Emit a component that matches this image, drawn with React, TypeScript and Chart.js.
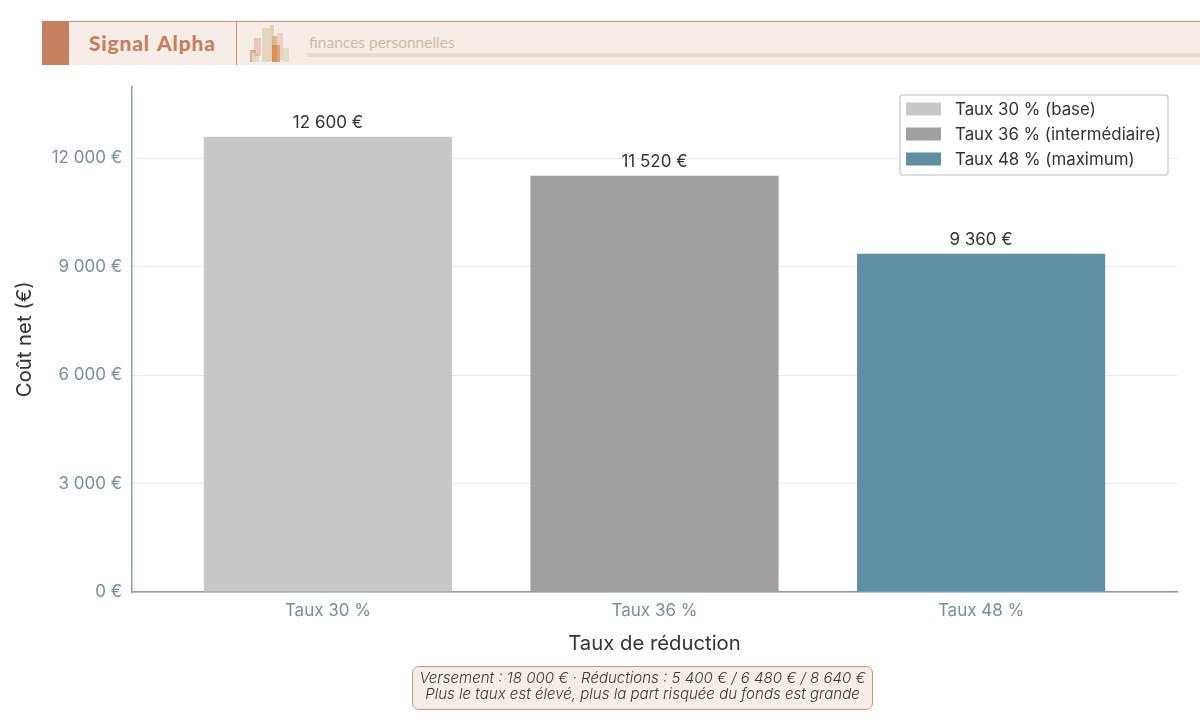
import { useEffect, useRef } from 'react';
import Chart from 'chart.js/auto';

const positions = [0, 1, 2];
const categories = ['Taux 30 %', 'Taux 36 %', 'Taux 48 %'];
const netCosts = [12600, 11520, 9360];
const yTicks = [0, 3000, 6000, 9000, 12000];
const barColors = ['#c8c8c8', '#a0a0a0', '#5f8fa3'];
const legendLabels = ['Taux 30 % (base)', 'Taux 36 % (intermédiaire)', 'Taux 48 % (maximum)'];
const noteLines = [
  'Versement : 18 000 € · Réductions : 5 400 € / 6 480 € / 8 640 €',
  'Plus le taux est élevé, plus la part risquée du fonds est grande',
];

const FONT = 'Inter';
const TEXT = '#333333';
const TICK = '#7290a0';
const AXIS = '#86a0ae';

const euro = (v: number) => String(v).replace(/\B(?=(\d{3})+$)/g, ' ') + ' €';

// small decorative skyline next to the brand name
const logoBars = [
  { l: 250, t: 50, w: 6, h: 12, c: 'rgba(224,150,90,.7)' },
  { l: 252, t: 53, w: 7, h: 9, c: 'rgba(215,220,205,.9)' },
  { l: 254, t: 38, w: 7, h: 18, c: 'rgba(220,150,145,.45)' },
  { l: 262, t: 28, w: 8, h: 34, c: 'rgba(225,212,190,.95)' },
  { l: 270, t: 25, w: 4, h: 36, c: 'rgba(225,200,170,.8)' },
  { l: 272, t: 36, w: 5, h: 26, c: 'rgba(205,170,120,.75)' },
  { l: 272, t: 45, w: 8, h: 17, c: 'rgba(215,130,50,.7)' },
  { l: 277, t: 33, w: 6, h: 27, c: 'rgba(225,160,150,.4)' },
  { l: 283, t: 48, w: 6, h: 14, c: 'rgba(225,220,200,.95)' },
];

const valueLabels = {
  id: 'valueLabels',
  afterDatasetsDraw(chart: any) {
    const { ctx } = chart;
    ctx.save();
    ctx.font = `17px ${FONT}`;
    ctx.fillStyle = TEXT;
    ctx.textAlign = 'center';
    ctx.textBaseline = 'middle';
    chart.getDatasetMeta(0).data.forEach((bar: any, i: number) => {
      ctx.fillText(euro(netCosts[i]), bar.x, bar.y - 14);
    });
    ctx.restore();
  },
};

const boxedLegend = {
  id: 'boxedLegend',
  afterDraw(chart: any) {
    const { ctx, chartArea } = chart;
    const left = chartArea.right - 277;
    const top = 95;
    ctx.save();
    ctx.beginPath();
    ctx.roundRect(left, top, 268, 80, 3);
    ctx.fillStyle = '#ffffff';
    ctx.fill();
    ctx.strokeStyle = '#ccd3d9';
    ctx.lineWidth = 1.5;
    ctx.stroke();
    ctx.font = `16.85px ${FONT}`;
    ctx.textBaseline = 'middle';
    legendLabels.forEach((label, i) => {
      const y = top + 14 + i * 25;
      ctx.fillStyle = barColors[i];
      ctx.fillRect(left + 6, y - 6.5, 35, 13);
      ctx.fillStyle = TEXT;
      ctx.fillText(label, left + 55, y + 0.5);
    });
    ctx.restore();
  },
};

export default function App() {
  const canvasRef = useRef<HTMLCanvasElement>(null);

  useEffect(() => {
    document.body.style.margin = '0';
    const ctx = canvasRef.current?.getContext('2d');
    if (!ctx) return;
    const chart = new Chart(ctx, {
      type: 'bar',
      data: {
        datasets: [{
          data: positions.map((x, i) => ({ x, y: netCosts[i] })),
          backgroundColor: barColors,
          borderWidth: 0,
          barPercentage: 0.76,
          categoryPercentage: 1,
        }],
      },
      options: {
        animation: false,
        responsive: false,
        layout: { padding: { top: 86.6, right: 23, left: 0, bottom: 0 } },
        plugins: {
          legend: { display: false },
          tooltip: { enabled: false },
        },
        scales: {
          x: {
            type: 'linear',
            min: -0.6,
            max: 2.6,
            offset: false,
            afterBuildTicks: (scale: any) => {
              scale.ticks = positions.map(value => ({ value }));
            },
            afterFit: (scale: any) => { scale.height = 129; },
            ticks: {
              autoSkip: false,
              maxRotation: 0,
              padding: 0.5,
              color: TICK,
              font: { family: FONT, size: 17 },
              callback: (v: any) => categories[v],
            },
            grid: { display: false },
            border: { color: AXIS, width: 1.5 },
            title: {
              display: true,
              text: 'Taux de réduction',
              color: TEXT,
              font: { family: FONT, size: 20.3 },
              padding: { top: 0, bottom: 65 },
            },
          },
          y: {
            min: 0,
            max: 13986,
            afterBuildTicks: (scale: any) => {
              scale.ticks = yTicks.map(value => ({ value }));
            },
            afterFit: (scale: any) => { scale.width = 132; },
            ticks: {
              padding: 10,
              color: TICK,
              font: { family: FONT, size: 17 },
              callback: (v: any) => euro(v),
            },
            grid: { color: '#ebebeb', lineWidth: 1, drawTicks: false },
            border: { color: AXIS, width: 1.5 },
            title: {
              display: true,
              text: 'Coût net (€)',
              color: TEXT,
              font: { family: FONT, size: 20.3 },
              padding: { top: 13, bottom: 0 },
            },
          },
        },
      },
      plugins: [valueLabels, boxedLegend],
    } as any);
    return () => chart.destroy();
  }, []);

  return (
    <div style={{ position: 'relative', width: 1200, height: 721, overflow: 'hidden', background: '#fff' }}>
      <canvas ref={canvasRef} width={1200} height={721} style={{ position: 'absolute', left: 0, top: 0, display: 'block' }} />
      <div style={{ position: 'absolute', left: 42, top: 21, width: 1158, height: 43.5, background: '#f7ede7', borderTop: '1px solid #d09078', boxSizing: 'border-box' }} />
      <div style={{ position: 'absolute', left: 42, top: 21, width: 27, height: 43.5, background: '#c67f5f' }} />
      <div style={{ position: 'absolute', left: 236, top: 21, width: 1, height: 43.5, background: '#d09078' }} />
      <div style={{ position: 'absolute', left: 89, top: 30, font: `900 21px/26px Lato`, letterSpacing: 0.8, wordSpacing: 2, color: '#c67f5f' }}>Signal Alpha</div>
      {logoBars.map((b, i) => (
        <div key={i} style={{ position: 'absolute', left: b.l, top: b.t, width: b.w, height: b.h, background: b.c }} />
      ))}
      <div style={{ position: 'absolute', left: 309, top: 33, font: `15.5px/18px Lato`, color: '#cdbba5' }}>finances personnelles</div>
      <div style={{ position: 'absolute', left: 307, top: 53, width: 893, height: 4, background: '#e9dccf' }} />
      <div style={{ position: 'absolute', left: 412, top: 666, width: 461, height: 44, boxSizing: 'border-box', background: '#f7ede7', border: '1.6px solid #d9927a', borderRadius: 7, textAlign: 'center', font: `italic 300 15.05px/16.8px ${FONT}`, color: '#3a3a3a', paddingTop: 2.5, whiteSpace: 'nowrap' }}>
        {noteLines.map(line => <div key={line}>{line}</div>)}
      </div>
    </div>
  );
}
